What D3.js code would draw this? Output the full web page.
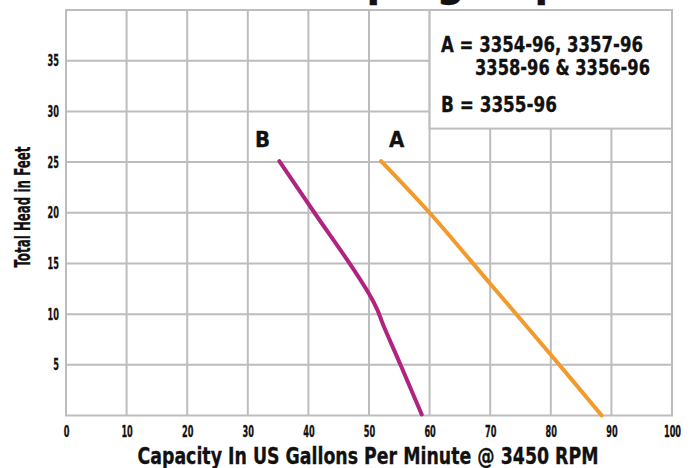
<!DOCTYPE html>
<html>
<head>
<meta charset="utf-8">
<script src="https://cdn.jsdelivr.net/npm/d3@7"></script>
<style>
  body { margin: 0; background: #fff; }
  text { font-family: "Liberation Sans Narrow", "DejaVu Sans Condensed", "DejaVu Sans", sans-serif; font-stretch: condensed; font-weight: bold; fill: #111; stroke: #111; stroke-width: 0.3px; }
</style>
</head>
<body>
<div class="chart"></div>
<script>
// curve data
const seriesA = [[52, 25.1], [60, 20], [70, 13], [80, 6], [88.4, 0]];
const seriesB = [[35.2, 25.1], [41, 20], [46.8, 15], [50, 12], [51.4, 10.4], [52.3, 9], [55.2, 5], [58.7, 0.1]];
const xTicks = [0, 10, 20, 30, 40, 50, 60, 70, 80, 90, 100];
const yTicks = [5, 10, 15, 20, 25, 30, 35];
const yGrid = [0, 5, 10, 15, 20, 25, 30, 35, 40];
const legendLines = ["A = 3354-96, 3357-96", "3358-96 & 3356-96", "B = 3355-96"];

const svg = d3.select(".chart").append("svg")
  .attr("width", 691)
  .attr("height", 468);

const x = d3.scaleLinear().domain([0, 100]).range([66, 672]);
const y = d3.scaleLinear().domain([0, 40]).range([415.5, 10]);

const grid = "#bdbdbd";

// title, mostly cut off at the top edge
svg.append("text")
  .text("Pumping Capacities")
  .attr("x", 268)
  .attr("y", -4)
  .attr("font-size", 44);

// grid
svg.append("g").selectAll("line")
  .data(xTicks)
  .join("line")
  .attr("x1", d => x(d)).attr("x2", d => x(d))
  .attr("y1", y(0)).attr("y2", y(40))
  .attr("stroke", grid)
  .attr("stroke-width", 2);

svg.append("g").selectAll("line")
  .data(yGrid)
  .join("line")
  .attr("x1", x(0) - 1).attr("x2", x(100) + 1)
  .attr("y1", d => y(d)).attr("y2", d => y(d))
  .attr("stroke", grid)
  .attr("stroke-width", 2);

// legend box
svg.append("rect")
  .attr("x", x(60))
  .attr("y", y(40))
  .attr("width", x(100) - x(60))
  .attr("height", y(28.3) - y(40))
  .attr("fill", "#fff")
  .attr("stroke", grid)
  .attr("stroke-width", 2);

svg.append("text").text(legendLines[0])
  .attr("x", 441).attr("y", 52).attr("font-size", 22)
  .attr("textLength", 202).attr("lengthAdjust", "spacingAndGlyphs");
svg.append("text").text(legendLines[1])
  .attr("x", 475).attr("y", 75).attr("font-size", 22)
  .attr("textLength", 175).attr("lengthAdjust", "spacingAndGlyphs");
svg.append("text").text(legendLines[2])
  .attr("x", 441).attr("y", 112).attr("font-size", 22)
  .attr("textLength", 116).attr("lengthAdjust", "spacingAndGlyphs");

// axes
const xAxis = svg.append("g")
  .attr("transform", `translate(0,${y(0)})`)
  .call(d3.axisBottom(x).tickValues(xTicks).tickSize(0).tickPadding(10));
xAxis.select(".domain").remove();

const yAxis = svg.append("g")
  .attr("transform", `translate(${x(0)},0)`)
  .call(d3.axisLeft(y).tickValues(yTicks).tickSize(0).tickPadding(7));
yAxis.select(".domain").remove();

svg.selectAll(".tick text")
  .attr("font-family", null)
  .attr("font-size", 16)
  .attr("fill", "#111")
  .attr("textLength", function () { return this.textContent.length * 5.7; })
  .attr("lengthAdjust", "spacingAndGlyphs");

svg.append("text")
  .text("Capacity In US Gallons Per Minute @ 3450 RPM")
  .attr("x", 368)
  .attr("y", 464)
  .attr("text-anchor", "middle")
  .attr("font-size", 23)
  .attr("textLength", 461)
  .attr("lengthAdjust", "spacingAndGlyphs");

svg.append("text")
  .text("Total Head in Feet")
  .attr("transform", "translate(30,207) rotate(-90)")
  .attr("text-anchor", "middle")
  .attr("font-size", 21)
  .attr("textLength", 121)
  .attr("lengthAdjust", "spacingAndGlyphs");

// curves
const line = d3.line()
  .x(d => x(d[0]))
  .y(d => y(d[1]))
  .curve(d3.curveCatmullRom.alpha(0.5));

svg.append("path")
  .datum(seriesB)
  .attr("d", line)
  .attr("fill", "none")
  .attr("stroke", "#b0237f")
  .attr("stroke-width", 4)
  .attr("stroke-linecap", "round");

svg.append("path")
  .datum(seriesA)
  .attr("d", line)
  .attr("fill", "none")
  .attr("stroke", "#f29a2b")
  .attr("stroke-width", 4)
  .attr("stroke-linecap", "round");

svg.append("text").text("B")
  .attr("x", 255).attr("y", 147).attr("font-size", 22);
svg.append("text").text("A")
  .attr("x", 389).attr("y", 147).attr("font-size", 22);
</script>
</body>
</html>
